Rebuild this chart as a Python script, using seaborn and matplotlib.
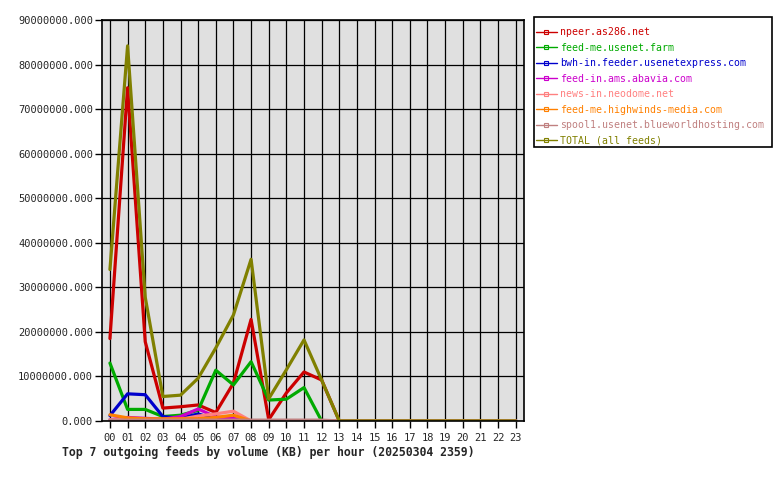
import numpy as np
import pandas as pd
import matplotlib
matplotlib.use("Agg")
import matplotlib.pyplot as plt
from matplotlib.lines import Line2D
from matplotlib.patches import Rectangle
from matplotlib.ticker import FormatStrFormatter, MultipleLocator
import seaborn as sns

# heures de la journee
hours = [f"{h:02d}" for h in range(24)]

feeds = [
    "npeer.as286.net",
    "feed-me.usenet.farm",
    "bwh-in.feeder.usenetexpress.com",
    "feed-in.ams.abavia.com",
    "news-in.neodome.net",
    "feed-me.highwinds-media.com",
    "spool1.usenet.blueworldhosting.com",
    "TOTAL (all feeds)",
]
colors = ["#cc0000", "#00aa00", "#0000cc", "#cc00cc",
          "#ff8080", "#ff8000", "#c08080", "#808000"]

# volumes en millions de KB
npeer = [18.5, 74.8, 17.8, 2.9, 3.2, 3.6, 1.9, 8.5, 22.8, 0.3, 6.3, 11.0,
         9.2, 0, 0, 0, 0, 0, 0, 0, 0, 0, 0, 0]
farm = [13.0, 2.6, 2.6, 1.0, 1.3, 2.4, 11.4, 8.1, 13.3, 4.7, 4.9, 7.5,
        0, 0, 0, 0, 0, 0, 0, 0, 0, 0, 0, 0]
usenetexpress = [1.2, 6.1, 5.9, 1.0, 0.6, 1.6, 0.3, 0.2, 0, 0, 0, 0,
                 0, 0, 0, 0, 0, 0, 0, 0, 0, 0, 0, 0]
abavia = [0.3, 0.8, 0.6, 0.4, 1.0, 2.7, 0.9, 0.6, 0, 0, 0, 0,
          0, 0, 0, 0, 0, 0, 0, 0, 0, 0, 0, 0]
neodome = [0.3, 0.3, 0.3, 0.3, 0.4, 1.1, 1.6, 2.2, 0, 0, 0, 0,
           0, 0, 0, 0, 0, 0, 0, 0, 0, 0, 0, 0]
highwinds = [1.4, 0.7, 0.5, 0.5, 0.5, 0.5, 0.8, 1.3, 0, 0, 0, 0,
             0, 0, 0, 0, 0, 0, 0, 0, 0, 0, 0, 0]
blueworld = [0.2, 0.2, 0.2, 0.2, 0.2, 0.2, 0.2, 0.2, 0.2, 0.2, 0.2, 0.2,
             0.2, 0, 0, 0, 0, 0, 0, 0, 0, 0, 0, 0]
total = [34.0, 84.2, 27.8, 5.5, 5.8, 9.6, 16.4, 23.8, 36.3, 5.0, 11.5, 18.2,
         9.2, 0, 0, 0, 0, 0, 0, 0, 0, 0, 0, 0]

series = [npeer, farm, usenetexpress, abavia, neodome, highwinds, blueworld, total]

rows = []
for name, vals in zip(feeds, series):
    for h, v in enumerate(vals):
        rows.append({"hour": h, "feed": name, "kb": v * 1e6})
df = pd.DataFrame(rows)

sns.set_style("whitegrid", {"axes.facecolor": "#e0e0e0", "grid.color": "black",
                            "axes.edgecolor": "black"})
plt.rcParams["font.family"] = ["DejaVu Sans Mono"]

fig = plt.figure(figsize=(7.8, 4.8), dpi=100)
ax = fig.add_axes([102/780, 1 - 421/480, 422/780, 401/480])

sns.lineplot(data=df, x="hour", y="kb", hue="feed", hue_order=feeds,
             palette=colors, linewidth=2.3, legend=False, ax=ax)

ax.set_xlim(-0.45, 23.47)
ax.set_ylim(0, 90e6)
ax.set_xticks(range(24))
ax.set_xticklabels(hours)
ax.yaxis.set_major_locator(MultipleLocator(10e6))
ax.yaxis.set_major_formatter(FormatStrFormatter("%.3f"))
ax.grid(True, color="black", linewidth=0.9)
ax.tick_params(axis="both", direction="out", length=5, width=1, color="black",
               labelsize=7.5, left=True, bottom=True)
ax.tick_params(axis="y", pad=1.5)
for sp in ax.spines.values():
    sp.set_linewidth(1.2)
    sp.set_color("black")
ax.set_xlabel("")
ax.set_ylabel("")

fig.text(62/780, 1 - 452/480, "Top 7 outgoing feeds by volume (KB) per hour (20250304 2359)",
         fontsize=8.3, fontweight="bold", va="center", ha="left")

# cadre de la legende
fig.patches.append(Rectangle((534/780, 1 - 147/480), 238/780, 130/480,
                             transform=fig.transFigure, facecolor="white",
                             edgecolor="black", linewidth=1.2, zorder=0))
handles = [Line2D([], [], color=c, lw=1, marker="s", ms=2.5, mfc="none", mew=0.8)
           for c in colors]
leg = fig.legend(handles, feeds, loc="upper left", bbox_to_anchor=(536/780, 1 - 27/480),
                 borderaxespad=0, borderpad=0, fontsize=7.1, frameon=False,
                 handlelength=2.1, handletextpad=0.35, labelspacing=0.56, numpoints=1)
for txt, c in zip(leg.get_texts(), colors):
    txt.set_color(c)

fig.savefig("out.png", dpi=100)
